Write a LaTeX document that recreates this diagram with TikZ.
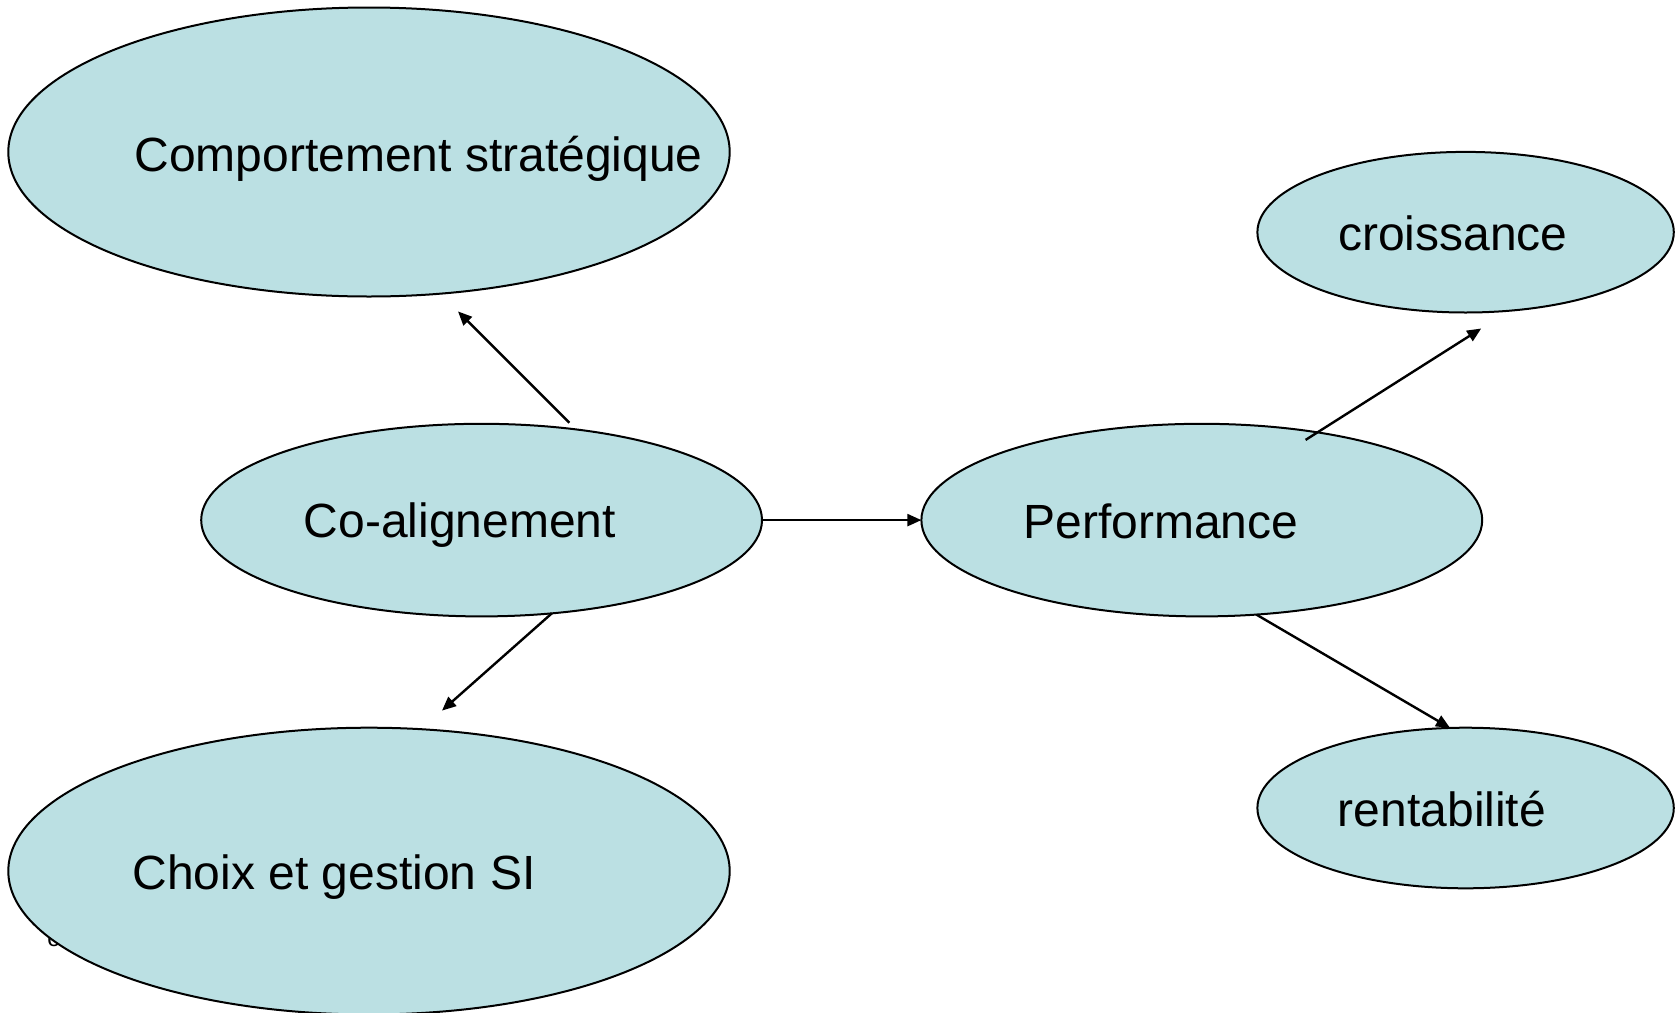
\documentclass[tikz,border=0pt]{standalone}
\usepackage{fontspec}
\setmainfont{Liberation Sans}
\usetikzlibrary{shapes.geometric,arrows.meta}
\definecolor{bubblefill}{RGB}{187,224,227}
\begin{document}
\begin{tikzpicture}[x=0.5pt,y=-0.5pt,
  bubble/.style={ellipse,draw=black,line width=1pt,fill=bubblefill,inner sep=0pt,outer sep=0pt},
  lbl/.style={font=\fontsize{24}{28}\selectfont,inner sep=0pt},
  link/.style={line width=1.2pt,-{Triangle[length=7pt,width=6pt]}}]
\useasboundingbox (0,0) rectangle (1678,1013);
% small glyph partly covered by the lower-left ellipse
\node[font=\fontsize{12}{14}\selectfont,inner sep=0pt] (stray) at (54,940) {o};
% ellipses
\node[bubble,minimum width=360.7pt,minimum height=144.5pt] (cs) at (369,152) {};
\node[bubble,minimum width=280.4pt,minimum height=96.3pt] (co) at (481.6,520.1) {};
\node[bubble,minimum width=360.7pt,minimum height=143.4pt] (ch) at (369,871.1) {};
\node[bubble,minimum width=280.4pt,minimum height=96.3pt] (pf) at (1201.8,520.1) {};
\node[bubble,minimum width=208.2pt,minimum height=80.3pt] (cr) at (1465.6,232.2) {};
\node[bubble,minimum width=208.2pt,minimum height=80.3pt] (rt) at (1465.6,808) {};
% labels
\node[lbl] (tcs) at (418.5,158.4) {Comportement stratégique};
\node[lbl] (tco) at (460,525.3) {Co-alignement};
\node[lbl] (tch) at (334,877.3) {Choix et gestion SI};
\node[lbl] (tpf) at (1161,521) {Performance};
\node[lbl] (tcr) at (1453,233) {croissance};
\node[lbl] (trt) at (1442,809) {rentabilité};
% free arrow ends
\coordinate (csStart) at (569.3,422.7);
\coordinate (csTip) at (458,311.4);
\coordinate (chTip) at (442,710.6);
\coordinate (crStart) at (1305.6,439.9);
\coordinate (crTip) at (1481.2,328.5);
% connectors
\draw[link] (csStart) -- (csTip);
\draw[link] (co.east) -- (pf.west);
\draw[link] (co.-53) -- (chTip);
\draw[link] (crStart) -- (crTip);
\draw[link] (pf.-60) -- (rt.101);
\end{tikzpicture}
\end{document}
